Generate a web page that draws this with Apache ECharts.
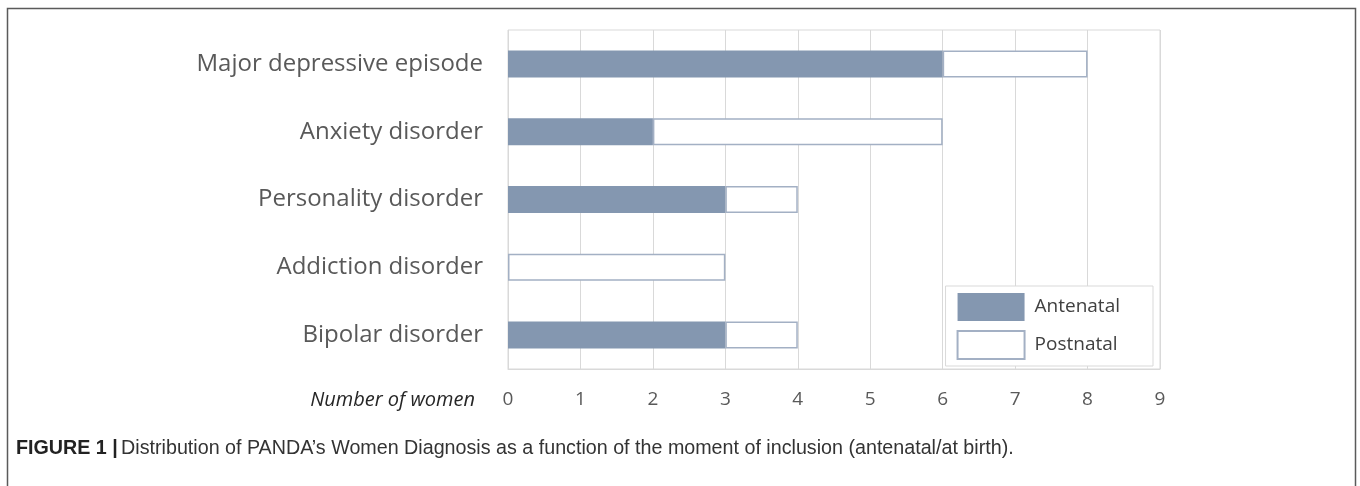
<!DOCTYPE html>
<html>
<head>
<meta charset="utf-8">
<script src="https://cdn.jsdelivr.net/npm/echarts@6/dist/echarts.min.js"></script>
<style>
  html, body { margin: 0; padding: 0; background: #fff; }
  #chart { width: 1360px; height: 486px; }
</style>
</head>
<body>
<div id="chart"></div>
<script>
// categories from bottom to top (category axis on y starts at the bottom)
const categories = ['Bipolar disorder', 'Addiction disorder', 'Personality disorder', 'Anxiety disorder', 'Major depressive episode']
const antenatal = [3, 0, 3, 2, 6]
const postnatal = [1, 3, 1, 4, 2]
const xTicks = [0, 1, 2, 3, 4, 5, 6, 7, 8, 9]

const chart = echarts.init(document.getElementById('chart'), null, { renderer: 'canvas' })

const option = {
  animation: false,
  backgroundColor: '#fff',
  grid: {
    left: 508,
    right: 200,
    top: 30,
    bottom: 117,
    show: true,
    borderColor: '#d9d9d9',
    borderWidth: 1
  },
  xAxis: {
    type: 'value',
    min: xTicks[0],
    max: xTicks[xTicks.length - 1],
    interval: 1,
    axisLine: { show: true, lineStyle: { color: '#d9d9d9' } },
    axisTick: { show: false },
    splitLine: { show: true, lineStyle: { color: '#d9d9d9', width: 1 } },
    axisLabel: {
      margin: 21,
      fontFamily: 'Open Sans',
      fontSize: 19,
      color: '#595959'
    }
  },
  yAxis: {
    type: 'category',
    data: categories,
    axisLine: { show: false },
    axisTick: { show: false },
    axisLabel: {
      margin: 25,
      fontFamily: 'Open Sans',
      fontSize: 24,
      color: '#595959'
    }
  },
  legend: {
    orient: 'vertical',
    right: 207,
    top: 286,
    icon: 'rect',
    itemWidth: 67,
    itemHeight: 28,
    itemGap: 9,
    padding: [7, 33, 6, 11],
    borderColor: '#d9d9d9',
    borderWidth: 1,
    backgroundColor: '#fff',
    textStyle: { fontFamily: 'Open Sans', fontSize: 19, color: '#404040', padding: [0, 0, 0, 5] },
    data: ['Antenatal', 'Postnatal']
  },
  series: [
    {
      name: 'Antenatal',
      type: 'bar',
      stack: 'total',
      barWidth: 27,
      data: antenatal,
      itemStyle: { color: '#8497b0' }
    },
    {
      name: 'Postnatal',
      type: 'bar',
      stack: 'total',
      barWidth: 27,
      data: postnatal,
      itemStyle: { color: '#fff', borderColor: '#a3b0c4', borderWidth: 1.5 }
    }
  ],
  graphic: [
    // outer figure frame (open at the bottom of the crop)
    {
      type: 'rect',
      shape: { x: 7.5, y: 8.5, width: 1348, height: 500 },
      style: { fill: 'none', stroke: '#5a5a5a', lineWidth: 1.5 },
      silent: true
    },
    {
      type: 'text',
      x: 475,
      y: 400,
      style: {
        text: 'Number of women',
        align: 'right',
        verticalAlign: 'middle',
        fontFamily: 'Open Sans',
        fontStyle: 'italic',
        fontSize: 20,
        fill: '#262626'
      }
    },
    {
      type: 'text',
      x: 16,
      y: 449,
      style: {
        rich: {
          b: { fontFamily: 'Liberation Sans', fontWeight: 'bold', fontSize: 19.7, fill: '#222' },
          n: { fontFamily: 'Liberation Sans', fontSize: 19.7, fill: '#333' }
        },
        text: '{b|FIGURE 1 |} {n|Distribution of PANDA\u2019s Women Diagnosis as a function of the moment of inclusion (antenatal/at birth).}',
        verticalAlign: 'middle'
      }
    }
  ]
}

chart.setOption(option)
</script>
</body>
</html>
